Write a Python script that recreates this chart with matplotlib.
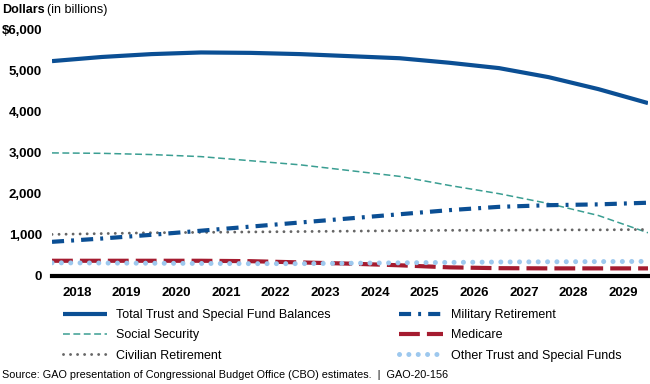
import numpy as np
import matplotlib
matplotlib.use("Agg")
from matplotlib import pyplot as plt

plt.rcParams['font.family'] = ['Liberation Sans', 'DejaVu Sans']

# fiscal-year boundaries, labels sit in the middle of each year
x_points = np.arange(2017.5, 2030.0, 1.0)
year_labels = list(range(2018, 2030))

total = [5220, 5320, 5390, 5430, 5420, 5390, 5340, 5290, 5180, 5050, 4830, 4540, 4200]
social_security = [2990, 2980, 2950, 2900, 2800, 2700, 2560, 2420, 2200, 2000, 1760, 1470, 1050]
military = [830, 910, 1000, 1100, 1200, 1300, 1400, 1500, 1600, 1680, 1720, 1740, 1780]
civilian = [1010, 1030, 1050, 1060, 1070, 1080, 1090, 1100, 1110, 1110, 1120, 1120, 1130]
medicare = [370, 370, 370, 370, 360, 330, 300, 260, 210, 190, 185, 185, 185]
other = [320, 315, 310, 305, 300, 300, 310, 320, 330, 340, 345, 350, 355]

y_ticks = [0, 1000, 2000, 3000, 4000, 5000, 6000]
y_tick_labels = ["0", "1,000", "2,000", "3,000", "4,000", "5,000", "$6,000"]

BLUE = "#0B4F94"
TEAL = "#3A9E92"
GRAY = "#666666"
RED = "#A51C30"
LIGHT = "#9DC8EE"

fig = plt.figure(figsize=(6.5, 3.84), dpi=100)
ax = fig.add_axes([52/650, 1 - 276/384, 596/650, 247/384])

ax.plot(x_points, total, color=BLUE, lw=3, solid_capstyle="butt",
        label="Total Trust and Special Fund Balances")
ax.plot(x_points, social_security, color=TEAL, lw=1.1, dashes=(4.5, 2.3),
        label="Social Security")
ax.plot(x_points, civilian, color=GRAY, lw=2.1, dashes=(0.01, 2.4),
        dash_capstyle="round", label="Civilian Retirement")
ax.plot(x_points, military, color=BLUE, lw=3, dashes=(2.9, 1.7, 0.7, 1.7),
        label="Military Retirement")
ax.plot(x_points, medicare, color=RED, lw=3, dashes=(5, 1.7),
        label="Medicare")
ax.plot(x_points, other, color=LIGHT, lw=3.6, dashes=(0.01, 1.86),
        dash_capstyle="round", label="Other Trust and Special Funds")

ax.axhline(0, color="black", lw=3, clip_on=False, zorder=5)

ax.set_xlim(2017.5, 2029.5)
ax.set_ylim(0, 6000)
ax.set_xticks(year_labels)
ax.set_xticklabels([str(y) for y in year_labels], fontweight="bold", fontsize=9.5)
ax.set_yticks(y_ticks)
ax.set_yticklabels(y_tick_labels, fontweight="bold", fontsize=9.5)
ax.tick_params(axis="y", length=0, pad=7.2)
ax.tick_params(axis="x", length=0, pad=8)
for s in ax.spines.values():
    s.set_visible(False)

fig.text(2/650, 1 - 10/384, "Dollars", fontweight="bold", fontsize=9, va="center")
fig.text(47/650, 1 - 10/384, "(in billions)", fontsize=9, va="center")

fig.legend(loc="upper left", bbox_to_anchor=(58/650, 1 - 304/384), ncol=2,
           frameon=False, fontsize=9, handlelength=3.5, columnspacing=5.5,
           labelspacing=0.67, handletextpad=0.7, borderpad=0.4, borderaxespad=0)

fig.text(2/650, 1 - 375/384,
         "Source: GAO presentation of Congressional Budget Office (CBO) estimates.  |  GAO-20-156",
         fontsize=7.8, va="center")

fig.savefig("out.png", dpi=100)
